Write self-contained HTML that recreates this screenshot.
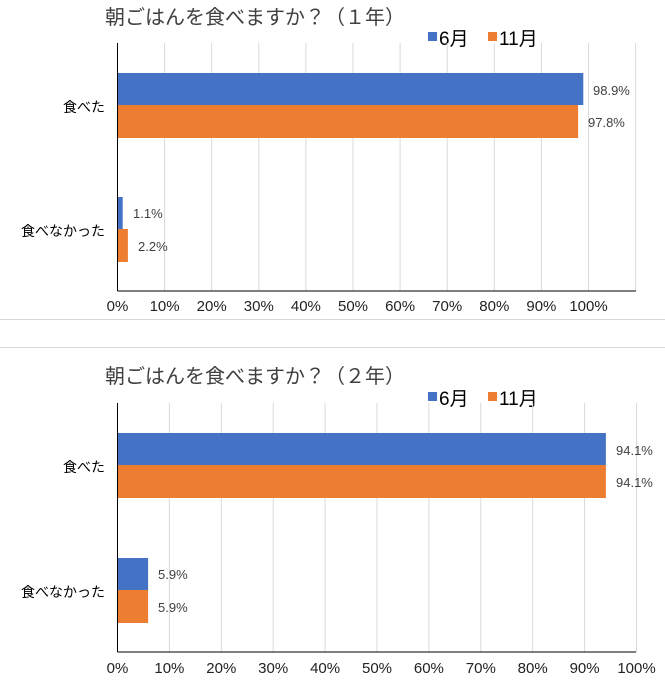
<!DOCTYPE html>
<html><head><meta charset="utf-8"><style>
body{margin:0;background:#fff}
text{font-family:"Liberation Sans","Noto Sans CJK JP",sans-serif}
</style></head><body>
<svg width="665" height="681" viewBox="0 0 665 681" xmlns="http://www.w3.org/2000/svg">
<rect width="665" height="681" fill="#fff"/>
<line x1="0" y1="319.5" x2="665" y2="319.5" stroke="#d9d9d9"/>
<line x1="0" y1="347.5" x2="665" y2="347.5" stroke="#d9d9d9"/>
<!-- chart 1 -->
<text x="105" y="24" font-size="20" fill="#404040" textLength="300">朝ごはんを食べますか？（１年）</text>
<rect x="428" y="32" width="9" height="9" fill="#4472c4"/>
<text x="439" y="45" font-size="19" fill="#000">6月</text>
<rect x="488" y="32" width="9" height="9" fill="#ed7d31"/>
<text x="499" y="45" font-size="19" fill="#000">11月</text>
<g stroke="#d9d9d9">
<line x1="164.6" y1="43" x2="164.6" y2="291"/><line x1="211.7" y1="43" x2="211.7" y2="291"/>
<line x1="258.8" y1="43" x2="258.8" y2="291"/><line x1="305.9" y1="43" x2="305.9" y2="291"/>
<line x1="353" y1="43" x2="353" y2="291"/><line x1="400.1" y1="43" x2="400.1" y2="291"/>
<line x1="447.2" y1="43" x2="447.2" y2="291"/><line x1="494.3" y1="43" x2="494.3" y2="291"/>
<line x1="541.4" y1="43" x2="541.4" y2="291"/><line x1="588.5" y1="43" x2="588.5" y2="291"/>
<line x1="635.6" y1="43" x2="635.6" y2="291"/>
</g>
<rect x="117.5" y="73" width="465.8" height="32" fill="#4472c4"/>
<rect x="117.5" y="105" width="460.6" height="33" fill="#ed7d31"/>
<rect x="117.5" y="197" width="5.2" height="32" fill="#4472c4"/>
<rect x="117.5" y="229" width="10.4" height="33" fill="#ed7d31"/>
<line x1="117.5" y1="43" x2="117.5" y2="291" stroke="#000"/>
<line x1="117.5" y1="291" x2="636" y2="291" stroke="#000"/>
<g font-size="13" fill="#404040">
<text x="593" y="95">98.9%</text><text x="588" y="127">97.8%</text>
<text x="133" y="218">1.1%</text><text x="138" y="251">2.2%</text>
</g>
<g font-size="14" fill="#000" text-anchor="end">
<text x="105" y="112">食べた</text><text x="105" y="236">食べなかった</text>
</g>
<g font-size="15" fill="#222" text-anchor="middle">
<text x="117.5" y="311">0%</text><text x="164.6" y="311">10%</text><text x="211.7" y="311">20%</text>
<text x="258.8" y="311">30%</text><text x="305.9" y="311">40%</text><text x="353" y="311">50%</text>
<text x="400.1" y="311">60%</text><text x="447.2" y="311">70%</text><text x="494.3" y="311">80%</text>
<text x="541.4" y="311">90%</text><text x="588.5" y="311">100%</text>
</g>
<!-- chart 2 -->
<text x="105" y="383" font-size="20" fill="#404040" textLength="300">朝ごはんを食べますか？（２年）</text>
<rect x="428" y="392" width="9" height="9" fill="#4472c4"/>
<text x="439" y="405" font-size="19" fill="#000">6月</text>
<rect x="488" y="392" width="9" height="9" fill="#ed7d31"/>
<text x="499" y="405" font-size="19" fill="#000">11月</text>
<g stroke="#d9d9d9">
<line x1="169.4" y1="403" x2="169.4" y2="652"/><line x1="221.3" y1="403" x2="221.3" y2="652"/>
<line x1="273.2" y1="403" x2="273.2" y2="652"/><line x1="325.1" y1="403" x2="325.1" y2="652"/>
<line x1="377" y1="403" x2="377" y2="652"/><line x1="428.9" y1="403" x2="428.9" y2="652"/>
<line x1="480.8" y1="403" x2="480.8" y2="652"/><line x1="532.7" y1="403" x2="532.7" y2="652"/>
<line x1="584.6" y1="403" x2="584.6" y2="652"/><line x1="636.5" y1="403" x2="636.5" y2="652"/>
</g>
<rect x="117.5" y="433" width="488.4" height="32" fill="#4472c4"/>
<rect x="117.5" y="465" width="488.4" height="33" fill="#ed7d31"/>
<rect x="117.5" y="558" width="30.6" height="32" fill="#4472c4"/>
<rect x="117.5" y="590" width="30.6" height="33" fill="#ed7d31"/>
<line x1="117.5" y1="403" x2="117.5" y2="652" stroke="#000"/>
<line x1="117.5" y1="652" x2="636" y2="652" stroke="#000"/>
<g font-size="13" fill="#404040">
<text x="616" y="455">94.1%</text><text x="616" y="487">94.1%</text>
<text x="158" y="579">5.9%</text><text x="158" y="612">5.9%</text>
</g>
<g font-size="14" fill="#000" text-anchor="end">
<text x="105" y="472">食べた</text><text x="105" y="597">食べなかった</text>
</g>
<g font-size="15" fill="#222" text-anchor="middle">
<text x="117.5" y="673">0%</text><text x="169.4" y="673">10%</text><text x="221.3" y="673">20%</text>
<text x="273.2" y="673">30%</text><text x="325.1" y="673">40%</text><text x="377" y="673">50%</text>
<text x="428.9" y="673">60%</text><text x="480.8" y="673">70%</text><text x="532.7" y="673">80%</text>
<text x="584.6" y="673">90%</text><text x="636.5" y="673">100%</text>
</g>
</svg>
</body></html>
